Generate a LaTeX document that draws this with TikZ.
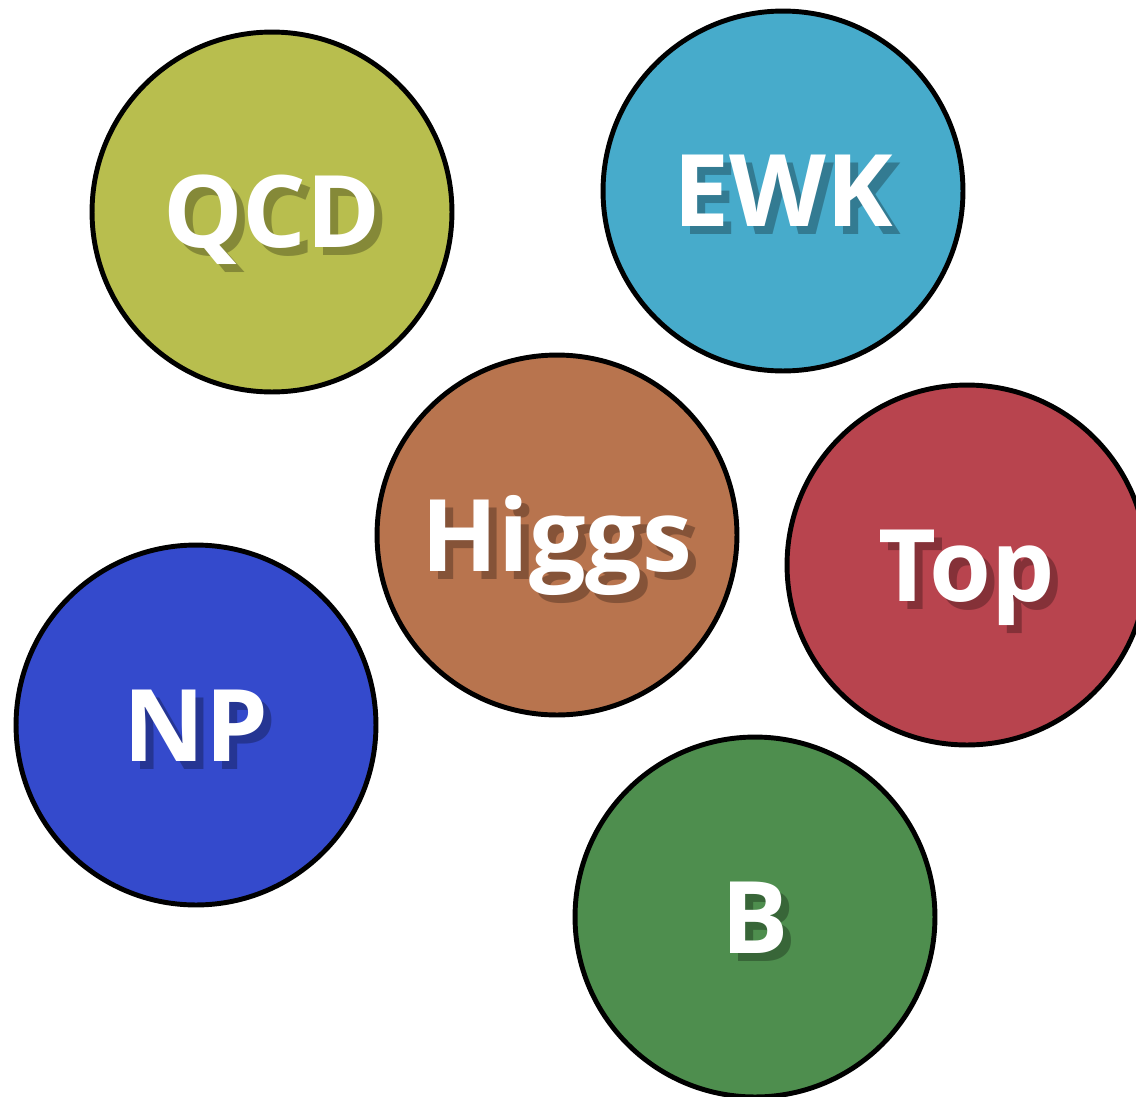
\documentclass[tikz,border=0pt]{standalone}
\usepackage{fontspec}
\setmainfont{Open Sans}
\usepackage{tikz}
\usepackage{xcolor}
\usetikzlibrary{positioning,shapes}

\definecolor{qcdcol}{HTML}{B8BE4E}
\definecolor{ewkcol}{HTML}{47ABCB}
\definecolor{higgscol}{HTML}{B8744E}
\definecolor{topcol}{HTML}{B8444E}
\definecolor{npcol}{HTML}{344ACC}
\definecolor{bcol}{HTML}{4E8E4E}

\begin{document}
\begin{tikzpicture}[x=0.02cm,y=-0.02cm,
  bubble/.style={circle,draw=black,line width=2.8pt,minimum size=7.2cm,inner sep=0pt},
  lbl/.style={anchor=base,text=white,font=\fontsize{57}{60}\selectfont\bfseries},
  shd/.style={anchor=base,opacity=0.5,font=\fontsize{57}{60}\selectfont\bfseries}]
\useasboundingbox (0,0) rectangle (1136,1096);
% the six bubbles
\node [bubble,fill=qcdcol] (qcd) at (272,212) {};
\node [bubble,fill=ewkcol] (ewk) at (783,191) {};
\node [bubble,fill=higgscol] (higgs) at (557,535) {};
\node [bubble,fill=topcol] (top) at (967,565) {};
\node [bubble,fill=npcol] (np) at (196,725) {};
\node [bubble,fill=bcol] (b) at (755,917) {};
% shadows of the labels
\node [shd,text=qcdcol!45!black] (qcdshd) at ([xshift=0.16cm,yshift=-0.88cm]qcd.center) {QCD};
\node [shd,text=ewkcol!45!black] (ewkshd) at ([xshift=0.16cm,yshift=-0.88cm]ewk.center) {EWK};
\node [shd,text=higgscol!45!black] (higgsshd) at ([xshift=0.16cm,yshift=-0.88cm]higgs.center) {Higgs};
\node [shd,text=topcol!45!black] (topshd) at ([xshift=0.16cm,yshift=-0.88cm]top.center) {Top};
\node [shd,text=npcol!45!black] (npshd) at ([xshift=0.16cm,yshift=-0.88cm]np.center) {NP};
\node [shd,text=bcol!45!black] (bshd) at ([xshift=0.16cm,yshift=-0.88cm]b.center) {B};
% labels
\node [lbl] (qcdtxt) at ([yshift=-0.72cm]qcd.center) {QCD};
\node [lbl] (ewktxt) at ([yshift=-0.72cm]ewk.center) {EWK};
\node [lbl] (higgstxt) at ([yshift=-0.72cm]higgs.center) {Higgs};
\node [lbl] (toptxt) at ([yshift=-0.72cm]top.center) {Top};
\node [lbl] (nptxt) at ([yshift=-0.72cm]np.center) {NP};
\node [lbl] (btxt) at ([yshift=-0.72cm]b.center) {B};
\end{tikzpicture}
\end{document}
